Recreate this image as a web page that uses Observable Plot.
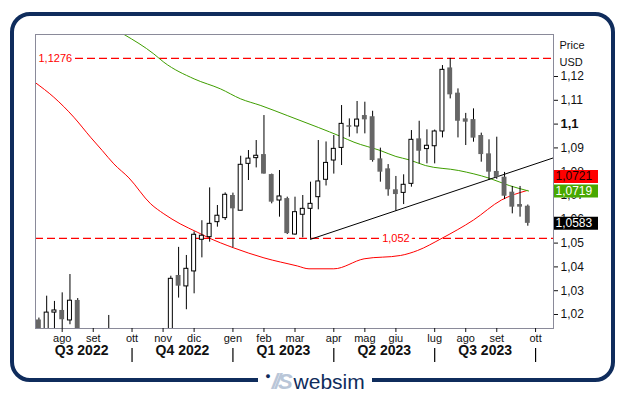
<!DOCTYPE html>
<html><head><meta charset="utf-8">
<script src="https://cdn.jsdelivr.net/npm/d3@7"></script>
<script src="https://cdn.jsdelivr.net/npm/@observablehq/plot@0.6"></script>
<style>
html,body{margin:0;padding:0;background:#fff;}
#wrap{position:relative;width:627px;height:395px;overflow:hidden;font-family:"Liberation Sans",Arial,sans-serif;}
#border{position:absolute;left:10px;top:12px;width:605px;height:370px;box-sizing:border-box;border:4px solid #0f2c5c;border-radius:20px;}
#chart{position:absolute;left:0;top:0;}
#logo{position:absolute;left:258px;top:368px;width:114px;height:27px;background:#fff;display:flex;align-items:center;justify-content:center;}
#logo .dot{color:#0f2c5c;font-size:9px;margin-top:-12px;margin-right:1px;}
#logo .ws{color:#b9c6d8;font-size:22px;font-style:italic;font-weight:bold;letter-spacing:-3px;margin-right:4px;}
#logo .web{color:#0f2c5c;font-size:21px;}
</style></head>
<body><div id="wrap"><div id="border"></div><div id="chart"></div>
<div id="logo"><span class="dot">●</span><span class="ws">//S</span><span class="web">websim</span></div></div>
<script>
// ---- data (weekly EUR/USD candles, week ending Friday, first = 2022-07-15) ----
const firstWeek = "2022-07-15";
const opens  = [1.0177,1.0082,1.0208,1.0217,1.0175,1.0259,1.0036,0.9964,0.9954,1.0042,1.0015,0.9690,0.9802,0.9740,0.9723,0.9861,0.9966,0.9960,1.0364,1.0318,1.0381,1.0514,1.0525,1.0588,1.0605,1.0700,1.0636,1.0833,1.0857,1.0872,1.0788,1.0679,1.0687,1.0536,1.0619,1.0644,1.0693,1.0766,1.0847,1.0900,1.0993,1.0990,1.1036,1.1031,1.0854,1.0812,1.0724,1.0711,1.0749,1.0938,1.0895,1.0907,1.0969,1.1236,1.1130,1.1022,1.1019,1.0952,1.0875,1.0801,1.0777,1.0714,1.0662,1.0655];
const highs  = [1.0185,1.0277,1.0255,1.0291,1.0368,1.0267,1.0090,1.0079,1.0113,1.0196,1.0050,0.9854,0.9999,0.9809,0.9876,1.0094,0.9976,1.0361,1.0482,1.0448,1.0547,1.0594,1.0732,1.0658,1.0711,1.0710,1.0865,1.0889,1.0931,1.1036,1.0790,1.0805,1.0693,1.0693,1.0700,1.0756,1.0931,1.0925,1.0952,1.1078,1.1022,1.1095,1.1092,1.1054,1.0899,1.0830,1.0780,1.0787,1.0973,1.1012,1.0976,1.0975,1.1246,1.1276,1.1148,1.1045,1.1064,1.0962,1.0934,1.0945,1.0797,1.0738,1.0738,1.0660];
const lows   = [0.9952,1.0075,1.0097,1.0123,1.0157,1.0034,0.9899,0.9910,0.9864,0.9956,0.9668,0.9536,0.9735,0.9632,0.9705,0.9850,0.9730,0.9932,1.0269,1.0220,1.0287,1.0438,1.0504,1.0567,1.0595,1.0480,1.0636,1.0763,1.0816,1.0790,1.0665,1.0609,1.0536,1.0533,1.0522,1.0516,1.0640,1.0740,1.0790,1.0826,1.0945,1.0959,1.0959,1.0840,1.0756,1.0697,1.0634,1.0662,1.0735,1.0833,1.0833,1.0833,1.0942,1.1106,1.0942,1.0910,1.0924,1.0840,1.0763,1.0768,1.0683,1.0623,1.0609,1.0571];
const closes = [1.0082,1.0208,1.0217,1.0178,1.0258,1.0036,0.9964,0.9954,1.0042,1.0015,0.9690,0.9802,0.9740,0.9723,0.9861,0.9966,0.9960,1.0350,1.0319,1.0392,1.0535,1.0531,1.0581,1.0615,1.0703,1.0644,1.0829,1.0855,1.0867,1.0790,1.0672,1.0696,1.0540,1.0630,1.0644,1.0665,1.0759,1.0837,1.0896,1.1001,1.0987,1.1019,1.1018,1.0847,1.0798,1.0724,1.0704,1.0745,1.0934,1.0886,1.0909,1.0969,1.1228,1.1123,1.1012,1.1008,1.0941,1.0872,1.0798,1.0776,1.0697,1.0651,1.0651,1.0583];

// moving averages: [week index from firstWeek, value]
const redMA = [[-0.45,1.1174],[1.92,1.1113],[4.5,1.1029],[6.65,1.0945],[8.16,1.0889],[9.65,1.0833],[11.6,1.0774],[14.4,1.0665],[16.1,1.0623],[18.2,1.0581],[20.4,1.0546],[21.7,1.0525],[25.1,1.0480],[29.0,1.0438],[33.3,1.0404],[34.8,1.0392],[38.0,1.0392],[41.9,1.0434],[46.6,1.0448],[48.8,1.0469],[51.8,1.0518],[56.0,1.0597],[59.6,1.0681],[62.9,1.0721]];
const greenMA = [[11.0,1.1376],[14.8,1.1295],[16.1,1.1260],[20.0,1.1190],[23.4,1.1148],[26.0,1.1106],[28.6,1.1078],[32.0,1.1036],[36.0,1.0986],[38.9,1.0948],[40.6,1.0924],[44.0,1.0889],[46.0,1.0864],[47.7,1.0850],[49.8,1.0826],[54.1,1.0805],[58.0,1.0773],[60.6,1.0742],[63.1,1.0719]];
const trendDates = ["2023-03-17","2023-10-22"];
const trendValues = [1.0516, 1.0858];

const levelTop = 1.1276;
const levelBottom = 1.052;
const levelBottomLabelDate = "2023-06-02";

const lastRed = 1.0721, lastGreen = 1.0719, lastClose = 1.0583;

const monthTicks = ["2022-08-05","2022-09-02","2022-10-07","2022-11-04","2022-12-02","2023-01-06","2023-02-03","2023-03-03","2023-04-07","2023-05-05","2023-06-02","2023-07-07","2023-08-04","2023-09-01","2023-10-06"];
const monthLabels = ["ago","set","ott","nov","dic","gen","feb","mar","apr","mag","giu","lug","ago","set","ott"];
const quarterBounds = ["2022-07-08","2022-10-07","2023-01-06","2023-04-07","2023-07-07","2023-10-06"];
const quarterLabels = ["Q3 2022","Q4 2022","Q1 2023","Q2 2023","Q3 2023"];
const yTicks = [1.02,1.03,1.04,1.05,1.06,1.07,1.08,1.09,1.11,1.12];
const yTickBold = [1.1];

// ---- build ----
const DAY = 864e5;
const t0 = Date.parse(firstWeek + "T00:00:00Z");
const dateOf = i => new Date(t0 + i * 7 * DAY);
const candles = opens.map((o, i) => ({date: dateOf(i), o, h: highs[i], l: lows[i], c: closes[i]}));
const up = candles.filter(d => d.c >= d.o);
const down = candles.filter(d => d.c < d.o);
const toComma = v => String(v).replace(".", ",");
const monthMap = new Map(monthTicks.map((d, i) => [Date.parse(d + "T00:00:00Z"), monthLabels[i]]));
const qDates = quarterBounds.map(d => Date.parse(d + "T00:00:00Z"));
const quarters = quarterLabels.map((q, i) => ({x: new Date((qDates[i] + qDates[i + 1]) / 2), q}));
const separators = qDates.slice(1).map(d => new Date(d));

const boxes = [
  {v: lastRed, fill: "#ff0000", text: "#1a0000", dy: -14},
  {v: lastGreen, fill: "#48a800", text: "#ffffff", dy: 0},
  {v: lastClose, fill: "#000000", text: "#ffffff", dy: 0}
];

const chart = Plot.plot({
  width: 627, height: 395,
  marginLeft: 35, marginRight: 74, marginTop: 34, marginBottom: 67,
  style: {background: "transparent", fontFamily: "'Liberation Sans', Arial, sans-serif", fontSize: "11px", color: "#111", overflow: "visible"},
  x: {type: "utc", domain: [new Date("2022-07-11T22:00:00Z"), new Date("2023-10-22T04:00:00Z")], axis: null},
  y: {domain: [1.01412, 1.13765], axis: null},
  marks: [
    Plot.ruleY([levelTop], {stroke: "#ff0000", strokeWidth: 1.2, strokeDasharray: "8,4", insetLeft: 40}),
    Plot.ruleY([levelBottom], {stroke: "#ff0000", strokeWidth: 1.2, strokeDasharray: "8,4"}),
    Plot.line(redMA, {x: d => dateOf(d[0]), y: d => d[1], stroke: "#ff0000", strokeWidth: 1, curve: "monotone-x", clip: true}),
    Plot.line(greenMA, {x: d => dateOf(d[0]), y: d => d[1], stroke: "#3f9e00", strokeWidth: 1, curve: "monotone-x", clip: true}),
    Plot.line(trendDates.map((d, i) => ({x: new Date(d + "T00:00:00Z"), y: trendValues[i]})), {x: "x", y: "y", stroke: "#000", strokeWidth: 1, clip: true}),
    Plot.ruleX(candles, {x: "date", y1: "l", y2: "h", stroke: "#000", strokeWidth: 1, clip: true}),
    Plot.rect(down, {x1: d => new Date(+d.date - 2.2 * DAY), x2: d => new Date(+d.date + 2.2 * DAY), y1: "o", y2: "c", fill: "#666666", clip: true}),
    Plot.rect(up, {x1: d => new Date(+d.date - 1.8 * DAY), x2: d => new Date(+d.date + 1.8 * DAY), y1: "o", y2: "c", fill: "#ffffff", stroke: "#000", strokeWidth: 1, clip: true}),
    Plot.frame({stroke: "#8a8a99", strokeWidth: 1}),
    Plot.text([levelTop], {y: d => d, frameAnchor: "left", dx: 3, textAnchor: "start", text: d => toComma(d), fill: "#ff0000", fontSize: 11}),
    Plot.text([levelBottom], {x: () => new Date(levelBottomLabelDate + "T00:00:00Z"), y: d => d, text: d => toComma(d), fill: "#ff0000", stroke: "#fff", strokeWidth: 7, paintOrder: "stroke", fontSize: 11}),
    Plot.axisY(yTicks, {anchor: "right", tickSize: 4, tickPadding: 3, tickFormat: toComma, fontSize: 12, label: null}),
    Plot.axisY(yTickBold, {anchor: "right", tickSize: 4, tickPadding: 3, tickFormat: toComma, fontSize: 13, fontWeight: "bold", label: null}),
    Plot.axisX(monthTicks.map(d => new Date(d + "T00:00:00Z")), {anchor: "bottom", tickSize: 4, tickPadding: 2, tickFormat: d => monthMap.get(+d), fontSize: 11, label: null}),
    Plot.tickX(separators, {x: d => d, insetTop: 280, dy: 34, stroke: "#000", strokeWidth: 1.2}),
    Plot.text(quarters, {x: "x", text: "q", frameAnchor: "bottom", dy: 26, fontSize: 14, fontWeight: "bold"}),
    Plot.text(["Price"], {frameAnchor: "top-right", dx: 6, dy: 7, textAnchor: "start", fontSize: 11}),
    Plot.text(["USD"], {frameAnchor: "top-right", dx: 6, dy: 24, textAnchor: "start", fontSize: 11}),
    ...boxes.map(b => Plot.ruleY([b.v], {stroke: b.fill, strokeWidth: 13, insetLeft: 474, dx: 45, dy: b.dy})),
    ...boxes.map(b => Plot.text([b.v], {y: d => d, text: d => toComma(d), frameAnchor: "right", textAnchor: "start", dx: 2, dy: b.dy, fill: b.text, fontSize: 12}))
  ]
});
document.getElementById("chart").appendChild(chart);
</script>
</body></html>
